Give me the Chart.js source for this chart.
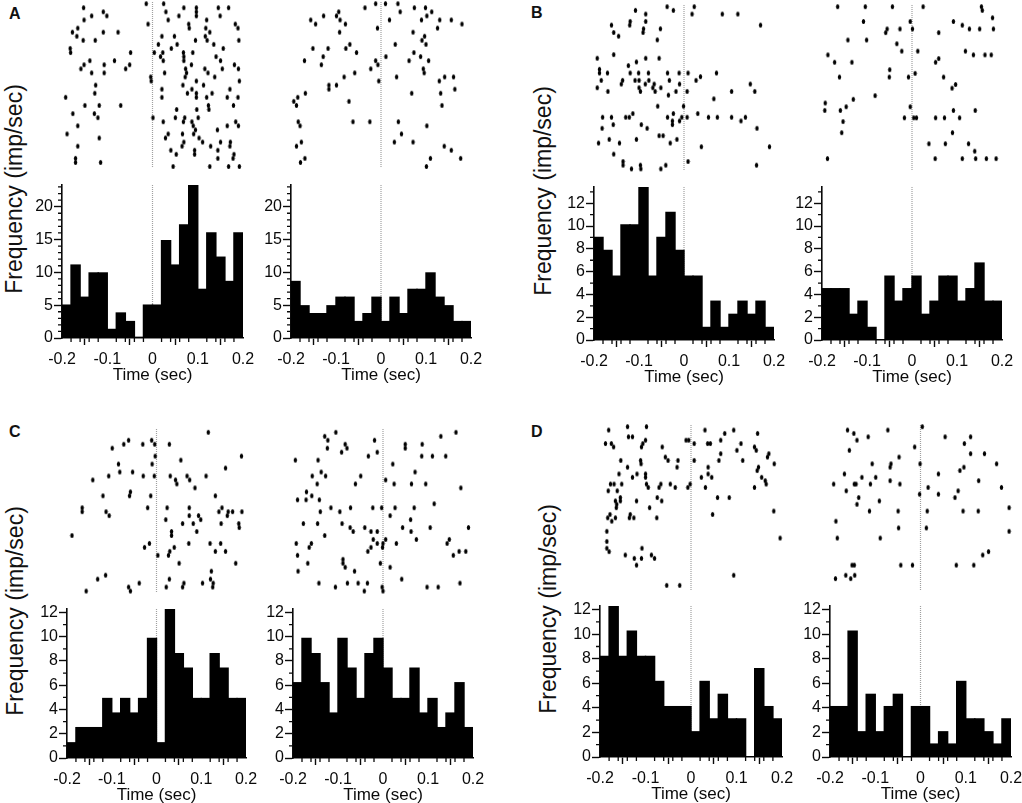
<!DOCTYPE html>
<html lang="en">
<head>
<meta charset="UTF-8">
<title>Peri-event rasters and histograms</title>
<script src="https://cdn.jsdelivr.net/npm/chart.js"></script>
<style>
    body { margin: 0; background: #fff; }
    #page { position: relative; width: 1022px; height: 803px; overflow: hidden; font-family: "Liberation Sans", Arial, sans-serif; color: #111; }
    canvas { position: absolute; }
    .letter { position: absolute; font-weight: bold; font-size: 16px; line-height: 16px; }
    .ytitle { position: absolute; font-size: 23px; line-height: 26px; white-space: nowrap; transform: translate(-50%, -50%) rotate(-90deg); }
</style>
</head>
<body>
<div id="page"></div>
<script>
// bin centres (sec), same for every histogram
const binCenters = [-0.19, -0.17, -0.15, -0.13, -0.11, -0.09, -0.07, -0.05, -0.03, -0.01, 0.01, 0.03, 0.05, 0.07, 0.09, 0.11, 0.13, 0.15, 0.17, 0.19];
const timeTicksLabel = 'Time (sec)';
const freqLabel = 'Frequency (imp/sec)';

// histogram heights (imp/sec)
const histA1 = [5, 11.1, 6.2, 9.9, 9.9, 1.3, 3.8, 2.5, 0.1, 5, 5, 14.8, 11.1, 17.2, 23.4, 7.4, 16, 12.3, 8.6, 16];
const histA2 = [8.6, 4.9, 3.7, 3.7, 4.9, 6.2, 6.2, 2.5, 3.7, 6.2, 2.5, 6.2, 3.7, 7.4, 7.4, 9.9, 6.2, 4.9, 2.5, 2.5];
const histB1 = [9, 7.85, 5.6, 10.1, 10.1, 13.4, 5.6, 9, 11.2, 7.85, 5.6, 5.6, 1.1, 3.4, 1.1, 2.25, 3.4, 2.25, 3.4, 1.1];
const histB2 = [4.5, 4.5, 4.5, 2.25, 3.4, 1.1, 0, 5.6, 3.4, 4.5, 5.6, 2.25, 3.4, 5.6, 5.6, 3.4, 4.5, 6.75, 3.4, 3.4];
const histC1 = [1.25, 2.5, 2.5, 2.5, 4.9, 3.7, 4.9, 3.7, 4.9, 9.85, 1.25, 12.3, 8.6, 7.4, 4.9, 4.9, 8.6, 7.4, 4.9, 4.9];
const histC2 = [6.2, 9.85, 8.6, 6.2, 3.7, 9.85, 7.4, 4.9, 8.6, 9.85, 7.4, 4.9, 4.9, 7.4, 3.7, 4.9, 2.5, 3.7, 6.2, 2.5];
const histD1 = [8.2, 12.3, 8.2, 10.25, 8.2, 8.2, 6.15, 4.1, 4.1, 4.1, 2.05, 6.15, 3.1, 5.1, 3.1, 3.1, 0, 7.2, 4.1, 3.1];
const histD2 = [4.1, 4.1, 10.25, 2.05, 5.1, 2.05, 4.1, 5.1, 0, 4.1, 4.1, 1.05, 2.05, 1.05, 6.15, 3.1, 3.1, 2.05, 1.05, 3.1];

// rasters: each line is [trial, spike times in ms...]
const rasterA1 = [
    [0, -14, 25], [1, -154, 70, 98, 147, 170], [2, -110, 30, 98], [3, -136, -102, 59, 98, 151], [4, -153, 35, 121],
    [5, -10, 81, 185], [6, -167, 82, 119, 191], [7, -179, -110, -77, 128], [8, -169, 21, 49, 118], [9, -155, -128, 96, 122, 193],
    [10, 13, 55, 137], [11, -184, 42, 158], [12, -183, -49, 4, 23, 69, 90], [13, 18, 70, 142], [14, -140, -85, 24, 70, 152],
    [15, -153, -108, -51, 87, 183], [16, -160, -60, 74, 117, 156, 192], [17, -136, -108, 27, 76, 124], [18, -4, 73, 139], [19, -3, 98, 194],
    [20, -127, 68, 114], [21, 21, 88, 173], [22, -129, 78, 98, 133], [23, -194, 21, 98, 121, 167, 191], [25, -151, -119, -71, 125, 181],
    [26, 54, 99, 126], [27, -178, -130], [28, -122, 1, 51, 72, 102], [29, 24, 69, 88, 186], [30, -167, 91, 167, 192],
    [31, 96, 145], [32, -191, 35, 67, 92], [33, -119, 29, 104], [34, 70, 112, 152, 174], [35, -167, 66, 130, 173],
    [36, 41, 94, 146], [37, 53, 94, 182], [38, -172, 146, 180], [39, -172, -116], [40, 46, 128, 170, 194]
];
const rasterA2 = [
    [0, -12, 10, 38], [1, -36, 75, 100], [2, -95, 43, 114], [3, -129, -100, 103], [4, -158, -92, 19, 91, 132, 158],
    [5, -147, -80, 182], [6, -8, 127], [7, -93, 72], [8, 98], [9, 92], [10, -70, 32, 101], [11, -153, -119, -79],
    [12, -55, 74], [13, -130, 11, 89], [14, -172, -12, 63, 107], [15, -134, -7], [16, -23, 95], [17, -59, 97],
    [18, -83, 35, 143, 163], [19, -5, 131], [20, -117, -100], [21, -117, 166], [22, -170, 69, 134], [23, -187],
    [24, -196, -72], [25, -190, 137], [29, -186, -63, -25, 39], [30, -182, 103], [32, 46], [34, -179, 30, 72],
    [35, -190, 142], [36, 158], [38, -171, 111, 179], [39, -181], [40, 102]
];
const rasterB1 = [
    [0, -38, 23], [1, -109, -24], [2, -86, 18, 86, 121], [4, -121, -86], [5, -163, -122, 172], [6, -53, -91], [7, -158, -92],
    [8, -147], [9, -60], [13, -158], [14, -195, -86, -56], [15, -107], [16, -125], [17, -190],
    [18, -190, -172, -121, -102, -80, -37, -11, 9, 73], [19, 37], [20, -186, -138, -110, -101, -79, -33, 27],
    [21, -141, -87, -67, -10, 149], [22, -195, -101, -70, -52], [23, -171, -98, -65, -18, 7, 107, 159], [24, -35], [25, 67],
    [27, -59, -1], [29, -115, -24, 31], [30, -183, -163, -131, -123, -37, -5, 7, 55, 75, 107, 138], [31, -26, -10, 128],
    [32, -159, -96, -26], [33, -184, -83, 164], [35, -56, -47], [36, -168, -107, -16], [37, -192, -145, -31], [38, 39, 192],
    [40, -158], [42, -137, 9], [43, -137, -98, -41, 163], [44, -118, -97, -52]
];
const rasterB2 = [
    [0, -167, -105, -44, 25, 156], [1, 158], [3, 181], [4, -109, -4, 93], [5, 113], [6, -56, -27, 1, 129, 152, 183], [7, -59, 60],
    [9, -144, -102], [10, -34], [12, -23, 13, 120], [13, -189, 138, 164, 178], [14, 60], [15, -174, -135, 53], [17, -50], [18, 7],
    [19, -163, -51, -8, 71], [21, 98], [22, 90], [24, -83], [25, -132], [26, -195], [27, -148, -4], [28, -196, -161, 93, 142],
    [30, -17, 4, 10, 53, 73, 107], [31, -155], [34, -158, 91], [37, 38, 75, 127], [39, 141], [41, -190, 52, 113, 143, 167, 189]
];
const rasterC1 = [
    [0, 117], [2, -63, -11], [3, -74, -31, -4, 29], [4, -100], [6, -3, 192], [7, 55], [8, -86, -10], [9, 156], [10, -83, -54],
    [11, -108, -30, -5, 31, 69, 112], [12, -144, 43, 75], [13, 46], [14, 87], [15, -59], [16, -121, -61, -13, 133],
    [19, -168, -20, 24, 74, 148], [20, -168, -114, 141, 162, 172, 193], [21, -107, 74, 95, 160], [22, 21, 100],
    [23, 59, 83, 146, 186], [24, 187], [25, 34, 91], [26, -191, 34], [28, -16, 73, 121, 145], [29, -27, 40], [30, 30, 133, 156],
    [31, 3, 27], [33, 51, 179], [35, 124], [36, -115], [37, -133, 29, 122], [38, -39, 62, 104, 128], [39, -63, 22, 59, 127], [40, -159, -59]
];
const rasterC2 = [
    [0, -106, 164], [1, -131, 130], [2, -124, -19], [3, -85, 50, 88], [4, -125, -81, 50], [5, -93, -13], [6, -33, 87, 111, 141],
    [7, -197, -146], [8, 22], [10, -139, 72], [11, -159, -129, -50], [12, 6], [13, -148, -62, 25, 64, 96], [14, 175], [15, -172],
    [16, -160], [17, -192, -173, -143], [18, 115], [19, -117, -73, -23, -3, 27, 70], [20, -141, -97], [21, 16], [22, 62],
    [23, -179, -147, -92], [24, -74, -41, 44, 106, 192], [25, -67, -27, -13, 63], [26, -131], [27, -22, 6, 75, 149],
    [28, -195, -161, -13, 0, 30, 144], [29, -166, -27, -1], [30, -34, 171, 186], [31, -192, 158], [32, -90], [33, -169, -90, -6],
    [34, -85, 16], [35, -191, -64], [37, 42], [38, -144, -80, -56, -35, 173], [39, -107, -2, 99, 124], [40, -42, 0]
];
const rasterD1 = [
    [0, -141, -99], [1, -183, 31, 95], [2, 75, 148], [3, -139, -130], [4, -101, -11, -5, 66], [5, -190, -177, -107, 7, 37, 43, 111],
    [6, -172, -110, -64, 141], [7, 102, 145], [8, 66, 173], [9, -57, 170], [10, -156, -112, -51, -29, 7, 62, 115], [11, -111, 185],
    [12, -141, -31, 38, 150], [13, 147], [14, -160, -120, -101, 38], [15, -130, -101, 23, 46, 157], [16, 165],
    [17, -179, -171, -154, -99, -67, -46, -2, 167], [18, -95, -71, -35, -7, 32, 141], [19, -184, -164], [21, -157, -75, 59, 85],
    [22, -168, -157, -121, -65], [23, -165], [24, -166, -92], [25, 184], [26, -180, -135, 48], [27, -185, -168, -137, -127, -76],
    [28, -176], [31, -187], [33, 198], [34, -187], [36, -187, -109], [37, -182], [38, -146, -88], [39, -126, -110, -81],
    [41, -121], [44, 95], [47, -54, -25]
];
const rasterD2 = [
    [0, 4], [1, -163, -73], [2, -149], [3, -117, 55, 112], [4, -142], [5, 98], [6, -13], [7, -159], [8, 112, 143], [9, -48],
    [11, -108, -66, -1, 170], [12, -68, 97], [13, 88], [14, -170, 40], [15, -131, -100], [16, -68, 130],
    [17, -194, -148, -144, -112, -46], [18, 17, 181], [19, -166, 84], [20, -2, 40], [21, -138, 77], [22, -92], [23, -142], [24, 198],
    [25, -114, -50, 15, 95, 129], [28, -189], [30, -49, 13], [31, 198], [33, -186, -90], [37, 152], [38, 139],
    [41, -153, -148, -44, -18, 80, 119], [44, -167, -147], [45, -190, -156]
];

// where each panel sits on the page
const panels = [
    { hist: histA1, raster: rasterA1, x0: 62, x1: 243, top: 185, bottom: 338, yMax: 23.3, yStep: 5, rTop: 1, rBottom: 169, row0: 2.67, pitch: 4.12 },
    { hist: histA2, raster: rasterA2, x0: 291, x1: 471, top: 185, bottom: 338, yMax: 23.3, yStep: 5, rTop: 1, rBottom: 169, row0: 2.67, pitch: 4.12 },
    { hist: histB1, raster: rasterB1, x0: 594, x1: 774, top: 187, bottom: 340, yMax: 13.43, yStep: 2, rTop: 4, rBottom: 172, row0: 5.67, pitch: 3.73 },
    { hist: histB2, raster: rasterB2, x0: 822, x1: 1002, top: 187, bottom: 340, yMax: 13.43, yStep: 2, rTop: 4, rBottom: 172, row0: 5.67, pitch: 3.75 },
    { hist: histC1, raster: rasterC1, x0: 67, x1: 246, top: 609, bottom: 758, yMax: 12.28, yStep: 2, rTop: 428, rBottom: 593, row0: 431.33, pitch: 4.017 },
    { hist: histC2, raster: rasterC2, x0: 293, x1: 473, top: 609, bottom: 758, yMax: 12.28, yStep: 2, rTop: 428, rBottom: 593, row0: 431.33, pitch: 4.017 },
    { hist: histD1, raster: rasterD1, x0: 600, x1: 782, top: 606, bottom: 757, yMax: 12.3, yStep: 2, rTop: 424, rBottom: 591, row0: 425.67, pitch: 3.417 },
    { hist: histD2, raster: rasterD2, x0: 830, x1: 1011, top: 606, bottom: 757, yMax: 12.3, yStep: 2, rTop: 424, rBottom: 591, row0: 425.67, pitch: 3.417 }
];
const letters = [['A', 9, 6], ['B', 531, 5], ['C', 9, 424], ['D', 531, 424]];
const yTitles = [[14, 189], [543, 191], [15, 611], [548, 609]];

const page = document.getElementById('page');
const FONT = '"Liberation Sans", Arial, sans-serif';
const INK = '#0a0a0a';

letters.forEach(function (l) {
    const d = document.createElement('div');
    d.className = 'letter';
    d.textContent = l[0];
    d.style.left = l[1] + 'px';
    d.style.top = l[2] + 'px';
    page.appendChild(d);
});
yTitles.forEach(function (t) {
    const d = document.createElement('div');
    d.className = 'ytitle';
    d.textContent = freqLabel;
    d.style.left = t[0] + 'px';
    d.style.top = t[1] + 'px';
    page.appendChild(d);
});

// oval spike mark
const spike = document.createElement('canvas');
spike.width = 5;
spike.height = 7;
const sctx = spike.getContext('2d');
sctx.fillStyle = '#000';
sctx.beginPath();
sctx.ellipse(2.5, 3.5, 1.7, 2.6, 0, 0, Math.PI * 2);
sctx.fill();

function addCanvas(left, top, w, h) {
    const c = document.createElement('canvas');
    c.width = w;
    c.height = h;
    c.style.left = left + 'px';
    c.style.top = top + 'px';
    c.style.width = w + 'px';
    c.style.height = h + 'px';
    page.appendChild(c);
    return c;
}

// short ticks between the labelled ones
const minorTicks = {
    id: 'minorTicks',
    afterDraw(chart, args, opts) {
        const ctx = chart.ctx;
        const xs = chart.scales.x, ys = chart.scales.y;
        ctx.save();
        ctx.strokeStyle = INK;
        ctx.lineWidth = 1.3;
        ctx.beginPath();
        for (let i = -10; i <= 10; i++) {
            if (i % 5 === 0) continue;
            const px = xs.getPixelForValue(i * 0.02);
            ctx.moveTo(px, xs.top);
            ctx.lineTo(px, xs.top + 4);
        }
        for (let v = 0; v <= ys.max; v += 1) {
            if (v % opts.major === 0) continue;
            const py = ys.getPixelForValue(v);
            ctx.moveTo(ys.right, py);
            ctx.lineTo(ys.right - 4, py);
        }
        ctx.stroke();
        ctx.restore();
    }
};

function zeroLine(from, to) {
    return {
        type: 'line',
        data: [{ x: 0, y: from }, { x: 0, y: to }],
        borderColor: '#a0a0a0',
        borderWidth: 1.2,
        borderDash: [1, 1],
        pointRadius: 0,
        order: 2
    };
}

function drawRaster(p) {
    const pad = 4;
    const w = p.x1 - p.x0, h = p.rBottom - p.rTop;
    const rowMin = (p.rTop - p.row0) / p.pitch;
    const rowMax = (p.rBottom - p.row0) / p.pitch;
    const points = [];
    p.raster.forEach(function (trial) {
        for (let i = 1; i < trial.length; i++) points.push({ x: trial[i] / 1000, y: trial[0] });
    });
    new Chart(addCanvas(p.x0 - pad, p.rTop - pad, w + pad * 2, h + pad * 2), {
        type: 'scatter',
        data: {
            datasets: [
                { data: points, pointStyle: spike, pointRadius: 3, clip: false, order: 1 },
                zeroLine(rowMin, rowMax)
            ]
        },
        options: {
            responsive: false,
            animation: false,
            layout: { padding: pad },
            plugins: { legend: { display: false }, tooltip: { enabled: false } },
            scales: {
                x: { type: 'linear', min: -0.2, max: 0.2, display: false },
                y: { type: 'linear', min: rowMin, max: rowMax, reverse: true, display: false }
            }
        }
    });
}

function drawHist(p) {
    const left = 50, right = 22, above = 12, below = 48;
    const w = p.x1 - p.x0, h = p.bottom - p.top;
    new Chart(addCanvas(p.x0 - left, p.top - above, left + w + right, above + h + below), {
        type: 'bar',
        data: {
            datasets: [
                {
                    data: p.hist.map(function (v, i) { return { x: binCenters[i], y: v }; }),
                    backgroundColor: '#000',
                    borderWidth: 0,
                    inflateAmount: 0.7,
                    barPercentage: 1,
                    categoryPercentage: 1,
                    order: 1
                },
                zeroLine(0, p.yMax)
            ]
        },
        options: {
            responsive: false,
            animation: false,
            layout: { padding: { top: above, right: right, left: 0, bottom: 0 } },
            plugins: { legend: { display: false }, tooltip: { enabled: false }, minorTicks: { major: p.yStep } },
            scales: {
                x: {
                    type: 'linear',
                    min: -0.2,
                    max: 0.2,
                    offset: false,
                    afterFit: function (s) { s.height = below; },
                    grid: { drawOnChartArea: false, tickLength: 7, tickColor: INK, tickWidth: 1.4 },
                    border: { color: INK, width: 1.6 },
                    ticks: {
                        stepSize: 0.1,
                        autoSkip: false,
                        maxRotation: 0,
                        padding: 5,
                        color: INK,
                        font: { family: FONT, size: 16 },
                        callback: function (v) { return Math.abs(v) < 1e-6 ? '0' : v.toFixed(1); }
                    },
                    title: { display: true, text: timeTicksLabel, color: INK, font: { family: FONT, size: 17 }, padding: 0 }
                },
                y: {
                    type: 'linear',
                    min: 0,
                    max: p.yMax,
                    afterFit: function (s) { s.width = left; },
                    grid: { drawOnChartArea: false, tickLength: 8, tickColor: INK, tickWidth: 1.4 },
                    border: { color: INK, width: 1.6 },
                    ticks: {
                        stepSize: p.yStep,
                        includeBounds: false,
                        autoSkip: false,
                        padding: 1,
                        color: INK,
                        font: { family: FONT, size: 16 }
                    }
                }
            }
        },
        plugins: [minorTicks]
    });
}

panels.forEach(function (p) {
    drawRaster(p);
    drawHist(p);
});
</script>
</body>
</html>
